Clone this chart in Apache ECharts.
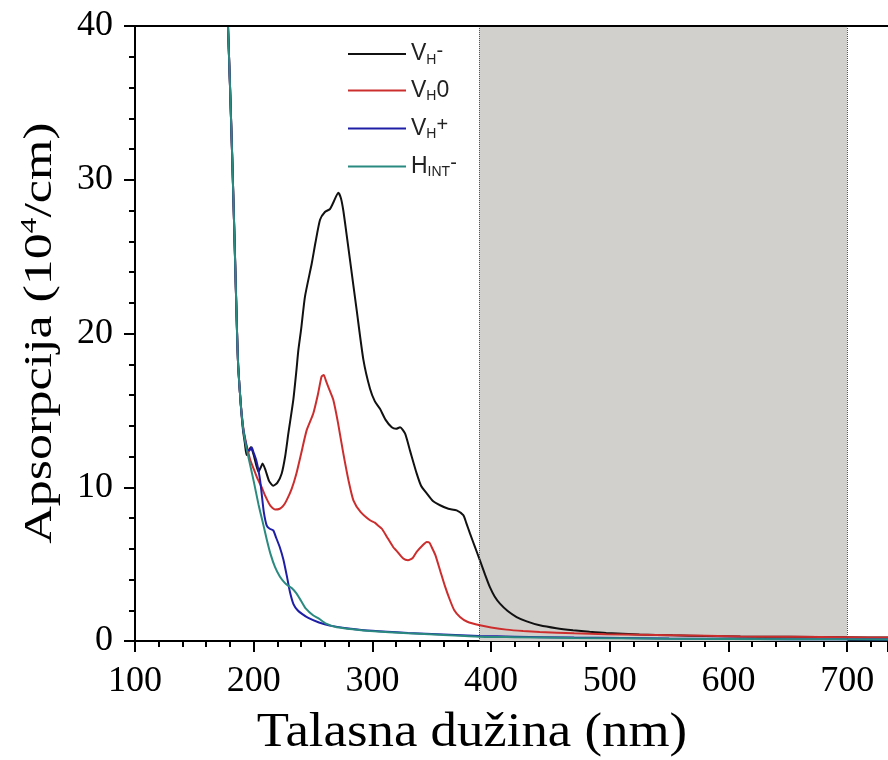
<!DOCTYPE html>
<html>
<head>
<meta charset="utf-8">
<script src="https://cdn.jsdelivr.net/npm/echarts@6/dist/echarts.min.js"></script>
<style>
	html, body { margin: 0; padding: 0; background: #fff; }
	#chartDiv { width: 888px; height: 760px; }
</style>
</head>
<body>
<div id="chartDiv"></div>
<script>
// podaci ocitani sa slike: [talasna duzina (nm), apsorpcija (10^4/cm)]
var vhMinus = [
	[176, 46], [178, 40.8], [180, 36.2], [182, 31.2], [184, 25.7], [186, 20.0], [187, 17.8], [189, 15.5],
	[191, 13.7], [192.5, 12.9], [194, 12.1], [195.5, 12.3], [197.5, 12.6], [200, 12.1], [204, 11.0],
	[206, 11.3], [207.5, 11.55], [210, 11.1], [213, 10.4], [216.5, 10.1], [220, 10.3], [223.6, 10.9],
	[226.5, 12.0], [229.2, 13.5], [233.4, 15.7], [236, 17.6], [237.6, 18.9], [240, 20.3], [243.2, 22.4],
	[248.9, 24.55], [252, 25.9], [255.9, 27.4], [260, 27.9], [264.3, 28.1], [267, 28.5], [271.3, 29.15],
	[273.5, 28.8], [275.5, 28.0], [278, 26.6], [281.1, 24.8], [286.8, 21.5], [292.4, 18.3], [298, 16.4],
	[302, 15.6], [306.4, 15.1], [311, 14.4], [316.3, 13.9], [320, 13.8], [323.3, 13.9], [327.5, 13.5],
	[332, 12.3], [337.3, 10.9], [341, 10.1], [345.8, 9.6], [351, 9.1], [357, 8.83], [364, 8.6], [371, 8.5],
	[376.6, 8.18], [379, 7.7], [382.2, 7.0], [386, 6.2], [390.6, 5.25], [395, 4.3], [399, 3.5], [403, 2.9],
	[407.5, 2.43], [414, 1.95], [421.5, 1.56], [430, 1.28], [441, 1.02], [455, 0.83], [469, 0.7], [483, 0.6],
	[497, 0.52], [525, 0.43], [553, 0.37], [580, 0.33], [610, 0.3], [650, 0.27], [700, 0.24], [736, 0.22]
];
var vhZero = [
	[176, 46], [178, 40.8], [180, 36.2], [182, 31.2], [184, 25.7], [186, 20.0], [187, 17.8], [189, 15.5],
	[191, 14.0], [192.7, 13.2], [195, 12.4], [197, 11.8], [200, 11.2], [203, 10.6], [206.7, 10.0], [210, 9.4],
	[214, 8.8], [218, 8.55], [222, 8.6], [225, 8.8], [227.7, 9.15], [232, 9.9], [236, 10.9], [240, 12.2],
	[244.6, 13.7], [250.2, 14.8], [254, 16.0], [257.2, 17.2], [259, 17.3], [261, 16.9], [264, 16.3],
	[267, 15.7], [271, 14.2], [275.5, 12.2], [280, 10.4], [284, 9.15], [290, 8.4], [298, 7.85], [302, 7.7],
	[305, 7.5], [308, 7.3], [312, 6.8], [317.6, 6.1], [320, 5.9], [326, 5.36], [330, 5.25], [334, 5.4],
	[337.3, 5.8], [342, 6.2], [345.8, 6.44], [348, 6.4], [350, 6.1], [353, 5.6], [357, 4.6], [361, 3.6],
	[365.4, 2.65], [369, 2.0], [373.8, 1.56], [380, 1.25], [390.6, 1.02], [400, 0.88], [413, 0.74],
	[427, 0.65], [441, 0.59], [470, 0.5], [497, 0.44], [553, 0.37], [610, 0.3], [700, 0.24], [736, 0.22]
];
var vhPlus = [
	[176, 46], [178, 40.8], [180, 36.2], [182, 31.2], [184, 25.7], [186, 20.0], [187, 17.8], [189, 15.5],
	[191, 13.9], [193, 13.0], [195, 12.4], [196.5, 12.4], [198.3, 12.6], [199.7, 12.3], [202, 11.8],
	[204, 11.1], [205.5, 10.4], [206.7, 9.6], [208.5, 8.4], [211, 7.5], [213.5, 7.3], [216.5, 7.2],
	[219, 6.7], [222, 6.1], [225, 5.3], [228, 4.2], [230.5, 3.2], [233.5, 2.4], [237, 2.0], [241, 1.75],
	[246, 1.5], [255, 1.2], [264, 1.0], [280, 0.82], [300, 0.66], [330, 0.52], [360, 0.42], [390, 0.33],
	[420, 0.28], [470, 0.22], [550, 0.16], [650, 0.12], [736, 0.1]
];
var hIntMinus = [
	[176, 46], [178, 40.8], [180, 36.2], [182, 31.2], [184, 25.7], [186, 20.0], [187, 17.8], [189, 15.5],
	[191, 13.9], [193, 12.9], [196, 11.8], [200, 10.4], [204, 8.9], [208, 7.6], [211, 6.6], [214, 5.7],
	[218, 4.8], [222, 4.2], [226, 3.8], [229, 3.6], [232, 3.45], [236, 3.1], [240, 2.6], [244, 2.1],
	[250, 1.67], [255, 1.45], [261, 1.13], [270, 0.9], [285, 0.75], [298, 0.65], [330, 0.5], [357, 0.4],
	[390, 0.28], [420, 0.25], [470, 0.2], [550, 0.15], [650, 0.12], [736, 0.1]
];
var bandRange = [390, 700];
var seriesNames = ['VH-', 'VH0', 'VH+', 'HINT-'];
var legendLabels = {
	'VH-': '{m|V}{s|H}{p|-}',
	'VH0': '{m|V}{s|H}{m|0}',
	'VH+': '{m|V}{s|H}{p|+}',
	'HINT-': '{m|H}{s|INT}{p|-}'
};
var serif = 'Liberation Serif';

var chart = echarts.init(document.getElementById('chartDiv'));

function lineSeries(name, data, color) {
	return {
		name: name,
		type: 'line',
		data: data,
		z: 3,
		symbol: 'none',
		smooth: 0.2,
		clip: true,
		lineStyle: { color: color, width: 2 },
		itemStyle: { color: color }
	};
}

var option = {
	animation: false,
	backgroundColor: '#fff',
	grid: { left: 135, top: 26, right: 0, bottom: 119, outerBoundsMode: 'none', containLabel: false },
	legend: {
		data: seriesNames,
		orient: 'vertical',
		left: 343,
		top: 36,
		icon: 'rect',
		itemWidth: 58,
		itemHeight: 2,
		itemGap: 12,
		formatter: function(name) { return legendLabels[name]; },
		textStyle: {
			rich: {
				m: { fontFamily: 'Liberation Sans', fontSize: 23, color: '#222', lineHeight: 26 },
				s: { fontFamily: 'Liberation Sans', fontSize: 14, color: '#222', verticalAlign: 'bottom', lineHeight: 26, padding: [10, 0, 0, 0] },
				p: { fontFamily: 'Liberation Sans', fontSize: 20, color: '#222', verticalAlign: 'top', lineHeight: 26 }
			}
		}
	},
	graphic: [{
		type: 'text',
		x: 472,
		y: 757,
		scaleX: 1.1,
		style: {
			text: 'Talasna dužina (nm)',
			font: '48px "Liberation Serif"',
			fill: '#000',
			align: 'center',
			verticalAlign: 'bottom'
		}
	}, {
		type: 'text',
		x: 40,
		y: 333,
		rotation: Math.PI / 2,
		scaleX: 1.3,
		style: {
			text: '{n|Apsorpcija (10}{e|4}{n|/cm)}',
			align: 'center',
			verticalAlign: 'middle',
			rich: {
				n: { fontFamily: serif, fontSize: 40, fill: '#000', lineHeight: 44 },
				e: { fontFamily: serif, fontSize: 24, fill: '#000', verticalAlign: 'top', lineHeight: 44 }
			}
		}
	}],
	xAxis: [{
		type: 'value',
		min: 100,
		max: 734.4,
		interval: 100,
		axisLine: { lineStyle: { color: '#000', width: 2 } },
		axisTick: { length: 11, lineStyle: { color: '#000', width: 2 } },
		minorTick: { show: true, splitNumber: 5, length: 6, lineStyle: { color: '#000', width: 2 } },
		axisLabel: { fontFamily: serif, fontSize: 36, color: '#000', margin: 23, showMaxLabel: false },
		splitLine: { show: false }
	}, {
		type: 'value',
		position: 'top',
		min: 100,
		max: 734.4,
		z: 10,
		axisLine: { lineStyle: { color: '#000', width: 2 } },
		axisTick: { show: false },
		axisLabel: { show: false },
		splitLine: { show: false }
	}],
	yAxis: {
		type: 'value',
		min: 0,
		max: 40,
		interval: 10,
		axisLine: { show: true, lineStyle: { color: '#000', width: 2 } },
		axisTick: { show: true, length: 11, lineStyle: { color: '#000', width: 2 } },
		minorTick: { show: true, splitNumber: 5, length: 6, lineStyle: { color: '#000', width: 2 } },
		axisLabel: { fontFamily: serif, fontSize: 36, color: '#000', margin: 22 },
		splitLine: { show: false }
	},
	series: [{
		name: 'band',
		type: 'line',
		data: [],
		z: 1,
		markArea: {
			silent: true,
			itemStyle: { color: '#d1d0cd' },
			data: [[{ xAxis: bandRange[0] }, { xAxis: bandRange[1] }]]
		},
		markLine: {
			silent: true,
			symbol: 'none',
			label: { show: false },
			lineStyle: { color: '#555', width: 1, type: 'dotted' },
			data: [{ xAxis: bandRange[0] }, { xAxis: bandRange[1] }]
		}
	},
		lineSeries('VH-', vhMinus, '#111111'),
		lineSeries('VH0', vhZero, '#cc2e2e'),
		lineSeries('VH+', vhPlus, '#1e1ea6'),
		lineSeries('HINT-', hIntMinus, '#2b8a80')
	]
};

chart.setOption(option);
</script>
</body>
</html>
